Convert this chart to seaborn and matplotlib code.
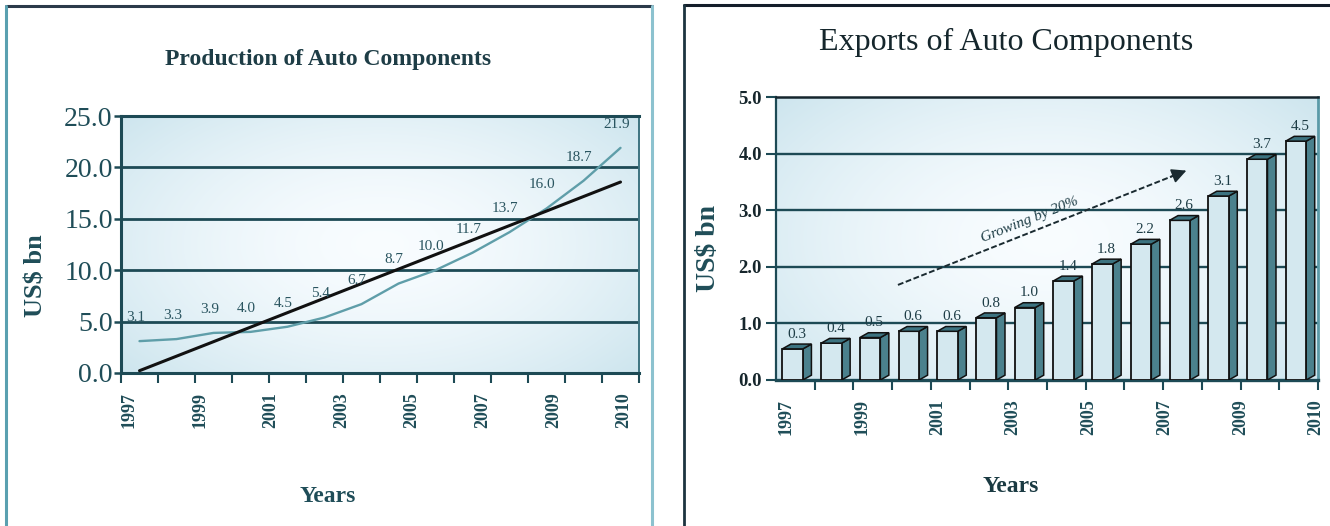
import numpy as np
import pandas as pd
import matplotlib
matplotlib.use("Agg")
import matplotlib.pyplot as plt
import seaborn as sns
from matplotlib.patches import Polygon
from matplotlib.lines import Line2D

# ---------------- data ----------------
years = [1997, 1998, 1999, 2000, 2001, 2002, 2003, 2004, 2005, 2006, 2007, 2008, 2009, 2010]
production = [3.1, 3.3, 3.9, 4.0, 4.5, 5.4, 6.7, 8.7, 10.0, 11.7, 13.7, 16.0, 18.7, 21.9]
production_labels = ["3.1", "3.3", "3.9", "4.0", "4.5", "5.4", "6.7", "8.7", "10.0",
                     "11.7", "13.7", "16.0", "18.7", "21.9"]
exports = [0.55, 0.65, 0.75, 0.86, 0.86, 1.1, 1.28, 1.75, 2.05, 2.4, 2.82, 3.25, 3.9, 4.22]
export_labels = ["0.3", "0.4", "0.5", "0.6", "0.6", "0.8", "1.0", "1.4", "1.8",
                 "2.2", "2.6", "3.1", "3.7", "4.5"]
tick_year_labels = ["1997", "1999", "2001", "2003", "2005", "2007", "2009", "2010"]
prod_yticks = [0, 5, 10, 15, 20, 25]
exp_yticks = [0, 1, 2, 3, 4, 5]

prod_df = pd.DataFrame({"Year": years, "Production": production})
exp_df = pd.DataFrame({"Year": years, "Exports": exports})

# ---------------- style ----------------
sns.set_theme(style="white")
plt.rcParams["font.family"] = ["Liberation Serif", "DejaVu Serif"]

TEAL_DARK = "#1d4a55"
TEXT_TEAL = "#1f4d58"
LINE_TEAL = "#5f9ea9"

fig = plt.figure(figsize=(13.3, 5.26), dpi=100)
W, H = 1330.0, 526.0


def fx(px):
    return px / W


def fy(py):
    return 1 - py / H


ax1 = fig.add_axes([fx(121), fy(373), fx(639) - fx(121), fy(116) - fy(373)])
ax2 = fig.add_axes([fx(776), fy(380), fx(1318) - fx(776), fy(97) - fy(380)])


def gradient_bg(ax):
    yy, xx = np.mgrid[0:1:200j, 0:1:300j]
    r = np.sqrt(((xx - 0.5) / 0.75) ** 2 + ((yy - 0.5) / 0.85) ** 2)
    t = np.clip(r, 0, 1) ** 1.6
    c0 = np.array([0.975, 0.99, 1.0])
    c1 = np.array([0.77, 0.88, 0.92])
    img = c0[None, None, :] * (1 - t[..., None]) + c1[None, None, :] * t[..., None]
    ax.imshow(img, extent=(0, 1, 0, 1), transform=ax.transAxes, aspect="auto",
              zorder=0, interpolation="bilinear")


# ---------------- left: production ----------------
gradient_bg(ax1)
sns.lineplot(data=prod_df, x="Year", y="Production", ax=ax1, color=LINE_TEAL,
             lw=1.7, zorder=3)
sns.regplot(data=prod_df, x="Year", y="Production", ax=ax1, scatter=False, ci=None,
            truncate=True, line_kws=dict(color="#111111", lw=2.2, zorder=4))
for yr, v, lab in zip(years, production, production_labels):
    ax1.annotate(lab, (yr, v), xytext=(-3, 17), textcoords="offset points",
                 ha="center", va="center", fontsize=11, color="#2a5560", zorder=5)

ax1.set_xlim(1996.5, 2010.5)
ax1.set_ylim(0, 25)
ax1.set_yticks(prod_yticks)
ax1.set_yticklabels([f"{v:.1f}" for v in prod_yticks], fontsize=20, color=TEXT_TEAL)
for yv in prod_yticks[1:-1]:
    ax1.axhline(yv, color=TEAL_DARK, lw=2.0, zorder=1)
ax1.set_xticks(np.linspace(1996.72, 2010.1, len(tick_year_labels)))
ax1.set_xticklabels(tick_year_labels, rotation=90, fontsize=13, fontweight="bold",
                    color=TEXT_TEAL)
ax1.set_xticks(np.arange(1996.5, 2011.0, 1.0), minor=True)
ax1.tick_params(axis="x", which="major", length=0, pad=14)
ax1.tick_params(axis="x", which="minor", length=7, width=1.5, color=TEAL_DARK,
                direction="out", bottom=True)
ax1.tick_params(axis="y", which="major", length=5, width=1.8, color=TEAL_DARK,
                direction="out", left=True, pad=1)
for side in ["left", "bottom", "top"]:
    ax1.spines[side].set_color(TEAL_DARK)
    ax1.spines[side].set_linewidth(2.2)
ax1.spines["right"].set_color("#3d7380")
ax1.spines["right"].set_linewidth(1.4)
ax1.set_xlabel("Years", fontsize=17, fontweight="bold", color=TEXT_TEAL, va="center")
ax1.xaxis.set_label_coords(0.40, -0.482)
ax1.set_ylabel("US$ bn", fontsize=19, fontweight="bold", color=TEXT_TEAL, va="center")
ax1.yaxis.set_label_coords(-0.164, 0.38)

# ---------------- right: exports ----------------
gradient_bg(ax2)
ax2.set_axisbelow(True)
for yv in exp_yticks[1:-1]:
    ax2.axhline(yv, color=TEAL_DARK, lw=1.7, zorder=1)
sns.barplot(data=exp_df, x="Year", y="Exports", ax=ax2, native_scale=True,
            width=0.53, color="#d4e8ef", saturation=1, edgecolor="#111111",
            linewidth=1.3, zorder=3)

DX, DY = 0.22, 0.085
bar_patches = list(ax2.patches)
for p, lab in zip(bar_patches, export_labels):
    p.set_x(p.get_x() - 0.07)
    x0, w, h = p.get_x(), p.get_width(), p.get_height()
    side = Polygon([(x0 + w, 0), (x0 + w + DX, DY), (x0 + w + DX, h + DY), (x0 + w, h)],
                   closed=True, facecolor="#4b818d", edgecolor="#111111", lw=1.1, zorder=2.9)
    top = Polygon([(x0, h), (x0 + DX, h + DY), (x0 + w + DX, h + DY), (x0 + w, h)],
                  closed=True, facecolor="#3c7380", edgecolor="#111111", lw=1.1, zorder=3.1)
    ax2.add_patch(side)
    ax2.add_patch(top)
    ax2.text(x0 + (w + DX) / 2, h + DY + 0.06, lab, ha="center", va="bottom",
             fontsize=11, color="#1e3d46", zorder=5)

ax2.set_xlim(1996.5, 2010.5)
ax2.set_ylim(0, 5)
ax2.set_yticks(exp_yticks)
ax2.set_yticklabels([f"{v:.1f}" for v in exp_yticks], fontsize=13.5,
                    fontweight="bold", color="#16262c")
ax2.set_xticks(np.linspace(1996.76, 2010.45, len(tick_year_labels)))
ax2.set_xticklabels(tick_year_labels, rotation=90, fontsize=13, fontweight="bold",
                    color=TEXT_TEAL)
ax2.set_xticks(np.arange(1997.5, 2011.0, 1.0), minor=True)
ax2.tick_params(axis="x", which="major", length=0, pad=14)
ax2.tick_params(axis="x", which="minor", length=7, width=1.5, color=TEAL_DARK,
                direction="out", bottom=True)
ax2.tick_params(axis="y", which="major", length=7, width=1.5, color=TEAL_DARK,
                direction="out", left=True, pad=3)
ax2.spines["left"].set_color(TEAL_DARK)
ax2.spines["left"].set_linewidth(1.6)
ax2.spines["bottom"].set_color(TEAL_DARK)
ax2.spines["bottom"].set_linewidth(2.4)
ax2.spines["top"].set_color("#15252d")
ax2.spines["top"].set_linewidth(1.8)
ax2.spines["right"].set_color("#5a9aa8")
ax2.spines["right"].set_linewidth(2.0)
ax2.set_xlabel("Years", fontsize=17, fontweight="bold", color="#1a3a42", va="center")
ax2.xaxis.set_label_coords(0.434, -0.378)
ax2.set_ylabel("US$ bn", fontsize=20, fontweight="bold", color=TEXT_TEAL, va="center")
ax2.yaxis.set_label_coords(-0.124, 0.466)

# growth arrow
x_a, y_a = 1999.65, 1.68
x_b, y_b = 2007.1, 3.70
ax2.plot([x_a, x_b - 0.25], [y_a, y_b - 0.25 * (y_b - y_a) / (x_b - x_a)],
         color="#1a2a30", lw=1.4, ls=(0, (3, 1.3)), zorder=4)
ax2.annotate("", xy=(x_b, y_b), xytext=(x_b - 0.4, y_b - 0.4 * (y_b - y_a) / (x_b - x_a)),
             arrowprops=dict(arrowstyle="-|>", color="#1a2a30", lw=1.2,
                             mutation_scale=22, shrinkA=0, shrinkB=0), zorder=4)
fig.canvas.draw()
pa = ax2.transData.transform((x_a, y_a))
pb = ax2.transData.transform((x_b, y_b))
ang = np.degrees(np.arctan2(pb[1] - pa[1], pb[0] - pa[0]))
ax2.text(2003.05, 2.83, "Growing by 20%", rotation=ang, rotation_mode="anchor",
         ha="center", va="center", fontsize=11, fontstyle="italic",
         color="#1e3d46", zorder=5)

# ---------------- titles & panel frames ----------------
fig.text(fx(328), fy(60), "Production of Auto Components", ha="center", va="center",
         fontsize=17, fontweight="bold", color="#1e3d46")
fig.text(fx(1006), fy(42), "Exports of Auto Components", ha="center", va="center",
         fontsize=23, color="#15262c")

fig.add_artist(Line2D([fx(6), fx(652)], [fy(6), fy(6)], color="#2b3a4a", lw=2.2))
fig.add_artist(Line2D([fx(6), fx(6)], [fy(6), 0], color="#5aa0b0", lw=2.2))
fig.add_artist(Line2D([fx(652), fx(652)], [fy(6), 0], color="#8cc2cf", lw=2.2))
fig.add_artist(Line2D([fx(684), 1], [fy(5), fy(5)], color="#141e2a", lw=2.2))
fig.add_artist(Line2D([fx(684), fx(684)], [fy(5), 0], color="#1d3440", lw=2.0))

fig.savefig("out.png", dpi=100)
